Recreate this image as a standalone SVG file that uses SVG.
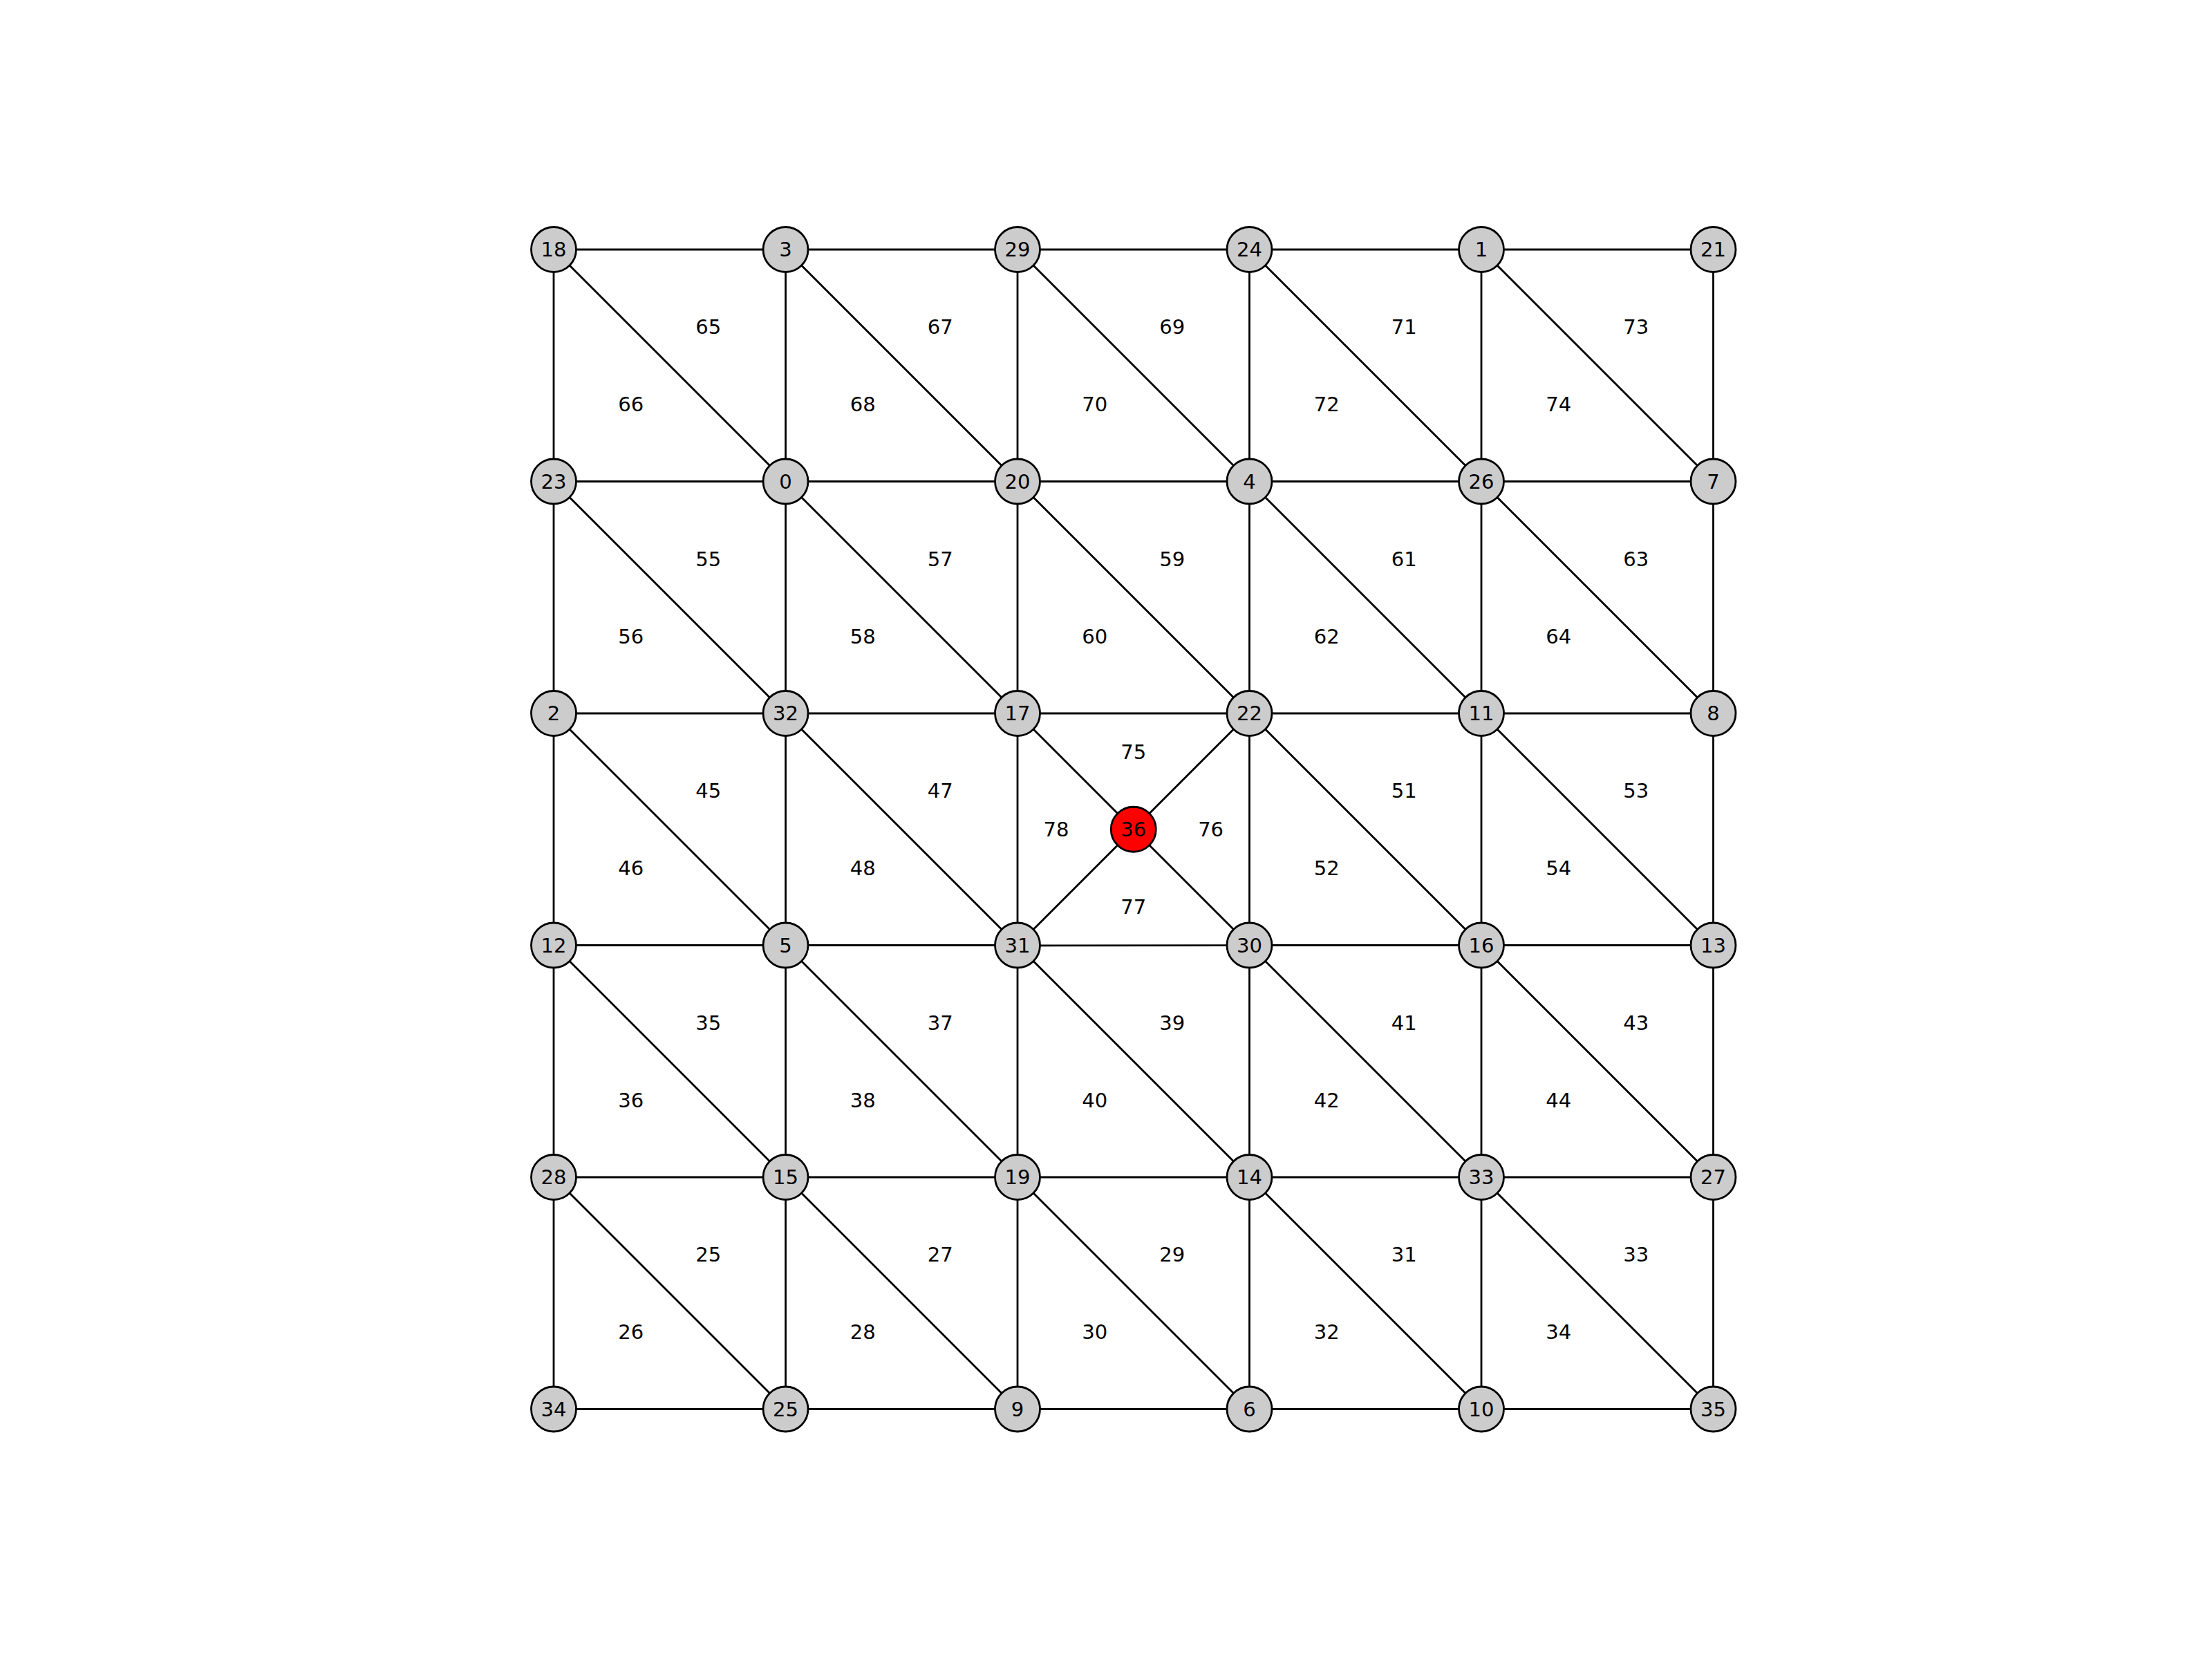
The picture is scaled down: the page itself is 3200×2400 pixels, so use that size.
<svg xmlns="http://www.w3.org/2000/svg" width="3200" height="2400" viewBox="0 0 3200 2400">
<style>
.e{stroke:#000;stroke-width:2.8;fill:none}
.n circle{fill:#cccccc;stroke:#000;stroke-width:2.8}
.n.hot circle{fill:#ff0000}
text{font-family:"DejaVu Sans",sans-serif;font-size:29px;fill:#000;text-anchor:middle}
</style>
<rect width="3200" height="2400" fill="#fff"/>
<g id="connectors">
<!-- horizontal -->
<line class="e" x1="801" y1="361" x2="1136.5" y2="361"/><line class="e" x1="1136.5" y1="361" x2="1472" y2="361"/><line class="e" x1="1472" y1="361" x2="1807.5" y2="361"/><line class="e" x1="1807.5" y1="361" x2="2143" y2="361"/><line class="e" x1="2143" y1="361" x2="2478.5" y2="361"/>
<line class="e" x1="801" y1="696.5" x2="1136.5" y2="696.5"/><line class="e" x1="1136.5" y1="696.5" x2="1472" y2="696.5"/><line class="e" x1="1472" y1="696.5" x2="1807.5" y2="696.5"/><line class="e" x1="1807.5" y1="696.5" x2="2143" y2="696.5"/><line class="e" x1="2143" y1="696.5" x2="2478.5" y2="696.5"/>
<line class="e" x1="801" y1="1032" x2="1136.5" y2="1032"/><line class="e" x1="1136.5" y1="1032" x2="1472" y2="1032"/><line class="e" x1="1472" y1="1032" x2="1807.5" y2="1032"/><line class="e" x1="1807.5" y1="1032" x2="2143" y2="1032"/><line class="e" x1="2143" y1="1032" x2="2478.5" y2="1032"/>
<line class="e" x1="801" y1="1367.5" x2="1136.5" y2="1367.5"/><line class="e" x1="1136.5" y1="1367.5" x2="1472" y2="1367.5"/><line class="e" x1="1472" y1="1368" x2="1807.5" y2="1367.5"/><line class="e" x1="1807.5" y1="1367.5" x2="2143" y2="1367.5"/><line class="e" x1="2143" y1="1367.5" x2="2478.5" y2="1367.5"/>
<line class="e" x1="801" y1="1703" x2="1136.5" y2="1703"/><line class="e" x1="1136.5" y1="1703" x2="1472" y2="1703"/><line class="e" x1="1472" y1="1703" x2="1807.5" y2="1703"/><line class="e" x1="1807.5" y1="1703" x2="2143" y2="1703"/><line class="e" x1="2143" y1="1703" x2="2478.5" y2="1703"/>
<line class="e" x1="801" y1="2038.5" x2="1136.5" y2="2038.5"/><line class="e" x1="1136.5" y1="2038.5" x2="1472" y2="2038.5"/><line class="e" x1="1472" y1="2038.5" x2="1807.5" y2="2038.5"/><line class="e" x1="1807.5" y1="2038.5" x2="2143" y2="2038.5"/><line class="e" x1="2143" y1="2038.5" x2="2478.5" y2="2038.5"/>
<!-- vertical -->
<line class="e" x1="801" y1="361" x2="801" y2="696.5"/><line class="e" x1="801" y1="696.5" x2="801" y2="1032"/><line class="e" x1="801" y1="1032" x2="801" y2="1367.5"/><line class="e" x1="801" y1="1367.5" x2="801" y2="1703"/><line class="e" x1="801" y1="1703" x2="801" y2="2038.5"/>
<line class="e" x1="1136.5" y1="361" x2="1136.5" y2="696.5"/><line class="e" x1="1136.5" y1="696.5" x2="1136.5" y2="1032"/><line class="e" x1="1136.5" y1="1032" x2="1136.5" y2="1367.5"/><line class="e" x1="1136.5" y1="1367.5" x2="1136.5" y2="1703"/><line class="e" x1="1136.5" y1="1703" x2="1136.5" y2="2038.5"/>
<line class="e" x1="1472" y1="361" x2="1472" y2="696.5"/><line class="e" x1="1472" y1="696.5" x2="1472" y2="1032"/><line class="e" x1="1472" y1="1032" x2="1472" y2="1367.5"/><line class="e" x1="1472" y1="1367.5" x2="1472" y2="1703"/><line class="e" x1="1472" y1="1703" x2="1472" y2="2038.5"/>
<line class="e" x1="1807.5" y1="361" x2="1807.5" y2="696.5"/><line class="e" x1="1807.5" y1="696.5" x2="1807.5" y2="1032"/><line class="e" x1="1807.5" y1="1032" x2="1807.5" y2="1367.5"/><line class="e" x1="1807.5" y1="1367.5" x2="1807.5" y2="1703"/><line class="e" x1="1807.5" y1="1703" x2="1807.5" y2="2038.5"/>
<line class="e" x1="2143" y1="361" x2="2143" y2="696.5"/><line class="e" x1="2143" y1="696.5" x2="2143" y2="1032"/><line class="e" x1="2143" y1="1032" x2="2143" y2="1367.5"/><line class="e" x1="2143" y1="1367.5" x2="2143" y2="1703"/><line class="e" x1="2143" y1="1703" x2="2143" y2="2038.5"/>
<line class="e" x1="2478.5" y1="361" x2="2478.5" y2="696.5"/><line class="e" x1="2478.5" y1="696.5" x2="2478.5" y2="1032"/><line class="e" x1="2478.5" y1="1032" x2="2478.5" y2="1367.5"/><line class="e" x1="2478.5" y1="1367.5" x2="2478.5" y2="1703"/><line class="e" x1="2478.5" y1="1703" x2="2478.5" y2="2038.5"/>
<!-- diagonals -->
<line class="e" x1="801" y1="361" x2="1136.5" y2="696.5"/><line class="e" x1="1136.5" y1="361" x2="1472" y2="696.5"/><line class="e" x1="1472" y1="361" x2="1807.5" y2="696.5"/><line class="e" x1="1807.5" y1="361" x2="2143" y2="696.5"/><line class="e" x1="2143" y1="361" x2="2478.5" y2="696.5"/>
<line class="e" x1="801" y1="696.5" x2="1136.5" y2="1032"/><line class="e" x1="1136.5" y1="696.5" x2="1472" y2="1032"/><line class="e" x1="1472" y1="696.5" x2="1807.5" y2="1032"/><line class="e" x1="1807.5" y1="696.5" x2="2143" y2="1032"/><line class="e" x1="2143" y1="696.5" x2="2478.5" y2="1032"/>
<line class="e" x1="801" y1="1032" x2="1136.5" y2="1367.5"/><line class="e" x1="1136.5" y1="1032" x2="1472" y2="1367.5"/><line class="e" x1="1807.5" y1="1032" x2="2143" y2="1367.5"/><line class="e" x1="2143" y1="1032" x2="2478.5" y2="1367.5"/>
<line class="e" x1="801" y1="1367.5" x2="1136.5" y2="1703"/><line class="e" x1="1136.5" y1="1367.5" x2="1472" y2="1703"/><line class="e" x1="1472" y1="1367.5" x2="1807.5" y2="1703"/><line class="e" x1="1807.5" y1="1367.5" x2="2143" y2="1703"/><line class="e" x1="2143" y1="1367.5" x2="2478.5" y2="1703"/>
<line class="e" x1="801" y1="1703" x2="1136.5" y2="2038.5"/><line class="e" x1="1136.5" y1="1703" x2="1472" y2="2038.5"/><line class="e" x1="1472" y1="1703" x2="1807.5" y2="2038.5"/><line class="e" x1="1807.5" y1="1703" x2="2143" y2="2038.5"/><line class="e" x1="2143" y1="1703" x2="2478.5" y2="2038.5"/>
<!-- spokes of 36 -->
<line class="e" x1="1472" y1="1032" x2="1639.75" y2="1199.75"/><line class="e" x1="1807.5" y1="1032" x2="1639.75" y2="1199.75"/><line class="e" x1="1472" y1="1367.5" x2="1639.75" y2="1199.75"/><line class="e" x1="1807.5" y1="1367.5" x2="1639.75" y2="1199.75"/>
</g>
<g id="edge-labels">
<text x="1024.7" y="472.8" dy="0.36em">65</text><text x="912.8" y="584.7" dy="0.36em">66</text>
<text x="1360.2" y="472.8" dy="0.36em">67</text><text x="1248.3" y="584.7" dy="0.36em">68</text>
<text x="1695.7" y="472.8" dy="0.36em">69</text><text x="1583.8" y="584.7" dy="0.36em">70</text>
<text x="2031.2" y="472.8" dy="0.36em">71</text><text x="1919.3" y="584.7" dy="0.36em">72</text>
<text x="2366.7" y="472.8" dy="0.36em">73</text><text x="2254.8" y="584.7" dy="0.36em">74</text>
<text x="1024.7" y="808.3" dy="0.36em">55</text><text x="912.8" y="920.2" dy="0.36em">56</text>
<text x="1360.2" y="808.3" dy="0.36em">57</text><text x="1248.3" y="920.2" dy="0.36em">58</text>
<text x="1695.7" y="808.3" dy="0.36em">59</text><text x="1583.8" y="920.2" dy="0.36em">60</text>
<text x="2031.2" y="808.3" dy="0.36em">61</text><text x="1919.3" y="920.2" dy="0.36em">62</text>
<text x="2366.7" y="808.3" dy="0.36em">63</text><text x="2254.8" y="920.2" dy="0.36em">64</text>
<text x="1024.7" y="1143.8" dy="0.36em">45</text><text x="912.8" y="1255.7" dy="0.36em">46</text>
<text x="1360.2" y="1143.8" dy="0.36em">47</text><text x="1248.3" y="1255.7" dy="0.36em">48</text>
<text x="2031.2" y="1143.8" dy="0.36em">51</text><text x="1919.3" y="1255.7" dy="0.36em">52</text>
<text x="2366.7" y="1143.8" dy="0.36em">53</text><text x="2254.8" y="1255.7" dy="0.36em">54</text>
<text x="1639.75" y="1087.8" dy="0.36em">75</text><text x="1751.6" y="1199.75" dy="0.36em">76</text>
<text x="1639.75" y="1311.6" dy="0.36em">77</text><text x="1527.9" y="1199.75" dy="0.36em">78</text>
<text x="1024.7" y="1479.3" dy="0.36em">35</text><text x="912.8" y="1591.2" dy="0.36em">36</text>
<text x="1360.2" y="1479.3" dy="0.36em">37</text><text x="1248.3" y="1591.2" dy="0.36em">38</text>
<text x="1695.7" y="1479.3" dy="0.36em">39</text><text x="1583.8" y="1591.2" dy="0.36em">40</text>
<text x="2031.2" y="1479.3" dy="0.36em">41</text><text x="1919.3" y="1591.2" dy="0.36em">42</text>
<text x="2366.7" y="1479.3" dy="0.36em">43</text><text x="2254.8" y="1591.2" dy="0.36em">44</text>
<text x="1024.7" y="1814.8" dy="0.36em">25</text><text x="912.8" y="1926.7" dy="0.36em">26</text>
<text x="1360.2" y="1814.8" dy="0.36em">27</text><text x="1248.3" y="1926.7" dy="0.36em">28</text>
<text x="1695.7" y="1814.8" dy="0.36em">29</text><text x="1583.8" y="1926.7" dy="0.36em">30</text>
<text x="2031.2" y="1814.8" dy="0.36em">31</text><text x="1919.3" y="1926.7" dy="0.36em">32</text>
<text x="2366.7" y="1814.8" dy="0.36em">33</text><text x="2254.8" y="1926.7" dy="0.36em">34</text>
</g>
<g id="nodes">
<g id="node-18" class="n"><circle cx="801" cy="361" r="32.5"/><text x="801" y="361" dy="0.36em">18</text></g>
<g id="node-3" class="n"><circle cx="1136.5" cy="361" r="32.5"/><text x="1136.5" y="361" dy="0.36em">3</text></g>
<g id="node-29" class="n"><circle cx="1472" cy="361" r="32.5"/><text x="1472" y="361" dy="0.36em">29</text></g>
<g id="node-24" class="n"><circle cx="1807.5" cy="361" r="32.5"/><text x="1807.5" y="361" dy="0.36em">24</text></g>
<g id="node-1" class="n"><circle cx="2143" cy="361" r="32.5"/><text x="2143" y="361" dy="0.36em">1</text></g>
<g id="node-21" class="n"><circle cx="2478.5" cy="361" r="32.5"/><text x="2478.5" y="361" dy="0.36em">21</text></g>
<g id="node-23" class="n"><circle cx="801" cy="696.5" r="32.5"/><text x="801" y="696.5" dy="0.36em">23</text></g>
<g id="node-0" class="n"><circle cx="1136.5" cy="696.5" r="32.5"/><text x="1136.5" y="696.5" dy="0.36em">0</text></g>
<g id="node-20" class="n"><circle cx="1472" cy="696.5" r="32.5"/><text x="1472" y="696.5" dy="0.36em">20</text></g>
<g id="node-4" class="n"><circle cx="1807.5" cy="696.5" r="32.5"/><text x="1807.5" y="696.5" dy="0.36em">4</text></g>
<g id="node-26" class="n"><circle cx="2143" cy="696.5" r="32.5"/><text x="2143" y="696.5" dy="0.36em">26</text></g>
<g id="node-7" class="n"><circle cx="2478.5" cy="696.5" r="32.5"/><text x="2478.5" y="696.5" dy="0.36em">7</text></g>
<g id="node-2" class="n"><circle cx="801" cy="1032" r="32.5"/><text x="801" y="1032" dy="0.36em">2</text></g>
<g id="node-32" class="n"><circle cx="1136.5" cy="1032" r="32.5"/><text x="1136.5" y="1032" dy="0.36em">32</text></g>
<g id="node-17" class="n"><circle cx="1472" cy="1032" r="32.5"/><text x="1472" y="1032" dy="0.36em">17</text></g>
<g id="node-22" class="n"><circle cx="1807.5" cy="1032" r="32.5"/><text x="1807.5" y="1032" dy="0.36em">22</text></g>
<g id="node-11" class="n"><circle cx="2143" cy="1032" r="32.5"/><text x="2143" y="1032" dy="0.36em">11</text></g>
<g id="node-8" class="n"><circle cx="2478.5" cy="1032" r="32.5"/><text x="2478.5" y="1032" dy="0.36em">8</text></g>
<g id="node-12" class="n"><circle cx="801" cy="1367.5" r="32.5"/><text x="801" y="1367.5" dy="0.36em">12</text></g>
<g id="node-5" class="n"><circle cx="1136.5" cy="1367.5" r="32.5"/><text x="1136.5" y="1367.5" dy="0.36em">5</text></g>
<g id="node-31" class="n"><circle cx="1472" cy="1367.5" r="32.5"/><text x="1472" y="1367.5" dy="0.36em">31</text></g>
<g id="node-30" class="n"><circle cx="1807.5" cy="1367.5" r="32.5"/><text x="1807.5" y="1367.5" dy="0.36em">30</text></g>
<g id="node-16" class="n"><circle cx="2143" cy="1367.5" r="32.5"/><text x="2143" y="1367.5" dy="0.36em">16</text></g>
<g id="node-13" class="n"><circle cx="2478.5" cy="1367.5" r="32.5"/><text x="2478.5" y="1367.5" dy="0.36em">13</text></g>
<g id="node-28" class="n"><circle cx="801" cy="1703" r="32.5"/><text x="801" y="1703" dy="0.36em">28</text></g>
<g id="node-15" class="n"><circle cx="1136.5" cy="1703" r="32.5"/><text x="1136.5" y="1703" dy="0.36em">15</text></g>
<g id="node-19" class="n"><circle cx="1472" cy="1703" r="32.5"/><text x="1472" y="1703" dy="0.36em">19</text></g>
<g id="node-14" class="n"><circle cx="1807.5" cy="1703" r="32.5"/><text x="1807.5" y="1703" dy="0.36em">14</text></g>
<g id="node-33" class="n"><circle cx="2143" cy="1703" r="32.5"/><text x="2143" y="1703" dy="0.36em">33</text></g>
<g id="node-27" class="n"><circle cx="2478.5" cy="1703" r="32.5"/><text x="2478.5" y="1703" dy="0.36em">27</text></g>
<g id="node-34" class="n"><circle cx="801" cy="2038.5" r="32.5"/><text x="801" y="2038.5" dy="0.36em">34</text></g>
<g id="node-25" class="n"><circle cx="1136.5" cy="2038.5" r="32.5"/><text x="1136.5" y="2038.5" dy="0.36em">25</text></g>
<g id="node-9" class="n"><circle cx="1472" cy="2038.5" r="32.5"/><text x="1472" y="2038.5" dy="0.36em">9</text></g>
<g id="node-6" class="n"><circle cx="1807.5" cy="2038.5" r="32.5"/><text x="1807.5" y="2038.5" dy="0.36em">6</text></g>
<g id="node-10" class="n"><circle cx="2143" cy="2038.5" r="32.5"/><text x="2143" y="2038.5" dy="0.36em">10</text></g>
<g id="node-35" class="n"><circle cx="2478.5" cy="2038.5" r="32.5"/><text x="2478.5" y="2038.5" dy="0.36em">35</text></g>
<g id="node-36" class="n hot"><circle cx="1639.75" cy="1199.75" r="32.5"/><text x="1639.75" y="1199.75" dy="0.36em">36</text></g>
</g>
</svg>
